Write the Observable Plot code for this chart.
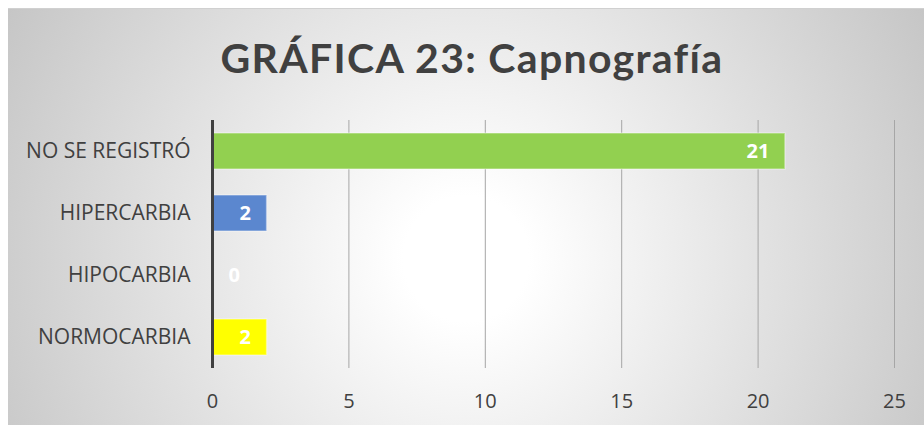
<!DOCTYPE html>
<html>
<head>
<meta charset="utf-8">
<script src="https://cdn.jsdelivr.net/npm/d3@7"></script>
<script src="https://cdn.jsdelivr.net/npm/@observablehq/plot@0.6"></script>
<style>
  html, body { margin: 0; padding: 0; background: #ffffff; }
  #chart {
    position: absolute; left: 8px; top: 8px; width: 916px; height: 417px;
    background: radial-gradient(circle at 50% 60%, #ffffff 12%, #c6c6c6 100%);
    border-top: 1px solid #d0d0d0;
    box-sizing: border-box; overflow: hidden;
  }
  #title {
    height: 99px; line-height: 98px; text-align: center;
    font-family: Lato, "Open Sans", sans-serif; font-weight: bold; font-size: 41px;
    letter-spacing: 1.3px; padding-left: 12px;
    color: #404040;
  }
  #chart svg text { font-size: 20px; }
  #chart svg g[aria-label="y-axis tick label"] text { font-size: 21px; }
</style>
</head>
<body>
<div id="chart"><div id="title">GRÁFICA 23: Capnografía</div></div>
<script>
const categories = ["NO SE REGISTRÓ", "HIPERCARBIA", "HIPOCARBIA", "NORMOCARBIA"];
const values = [21, 2, 0, 2];
const colors = ["#92D050", "#5B87CF", "#FFFFFF", "#FFFF00"];
const xTicks = [0, 5, 10, 15, 20, 25];

const data = categories.map((c, i) => ({category: c, value: values[i], color: colors[i]}));

const plot = Plot.plot({
  width: 916,
  height: 317,
  marginTop: 12,
  marginBottom: 57,
  marginLeft: 204,
  marginRight: 30,
  style: {background: "transparent", fontFamily: "'Open Sans', sans-serif", fontSize: "20px"},
  x: {domain: [0, 25], ticks: xTicks, label: null},
  y: {domain: categories, label: null, paddingInner: 0.42, paddingOuter: 0.21},
  marks: [
    Plot.gridX(xTicks.slice(1), {stroke: "#a6a6a6", strokeOpacity: 1, strokeWidth: 1}),
    Plot.barX(data.filter(d => d.value > 0), {x: "value", y: "category", fill: "color", stroke: "#ffffff", strokeOpacity: 0.35, strokeWidth: 1.5}),
    Plot.ruleX([0], {stroke: "#404040", strokeWidth: 3}),
    Plot.axisX({ticks: xTicks, tickSize: 0, tickPadding: 25, fontSize: 20, fill: "#404040", tickFormat: d => String(d)}),
    Plot.axisY({tickSize: 0, tickPadding: 22, fontSize: 21, fill: "#404040"}),
    Plot.text(data.filter(d => d.value > 0), {x: "value", y: "category", text: d => String(d.value), textAnchor: "end", dx: -16, fill: "#ffffff", fontWeight: "bold", fontSize: 20}),
    Plot.text(data.filter(d => d.value === 0), {x: "value", y: "category", text: d => String(d.value), textAnchor: "start", dx: 16, fill: "#ffffff", fontWeight: "bold", fontSize: 20})
  ]
});
plot.style.display = "block";
document.getElementById("chart").appendChild(plot);
</script>
</body>
</html>
